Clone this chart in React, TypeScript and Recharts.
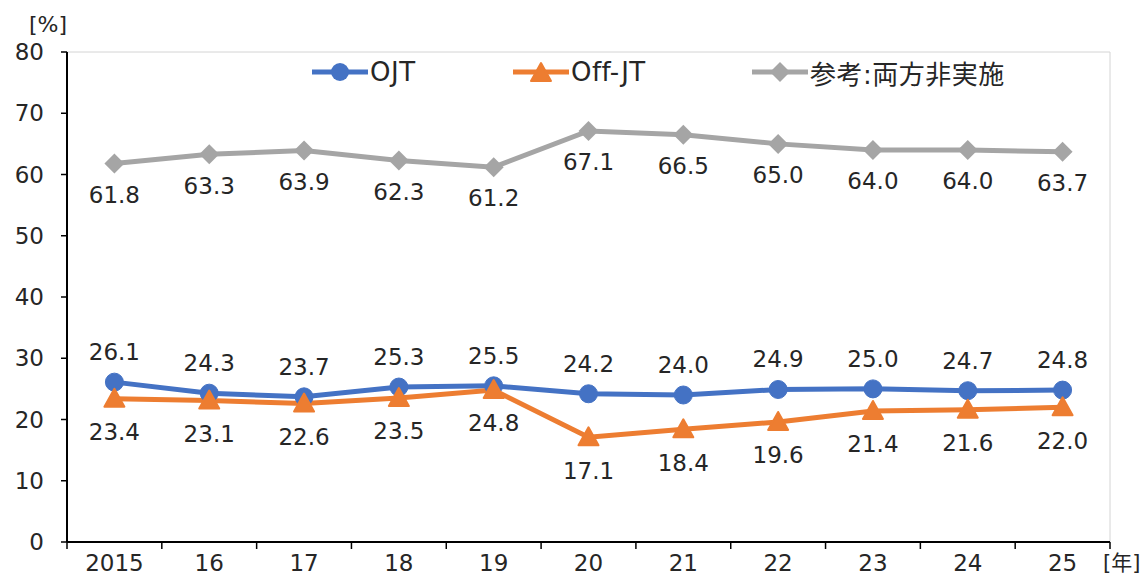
import { CartesianGrid, Legend, LabelList, Line, LineChart, ReferenceLine, XAxis, YAxis } from "recharts";

const years = ["2015", "16", "17", "18", "19", "20", "21", "22", "23", "24", "25"];
const ojt = [26.1, 24.3, 23.7, 25.3, 25.5, 24.2, 24.0, 24.9, 25.0, 24.7, 24.8];
const offJt = [23.4, 23.1, 22.6, 23.5, 24.8, 17.1, 18.4, 19.6, 21.4, 21.6, 22.0];
const neither = [61.8, 63.3, 63.9, 62.3, 61.2, 67.1, 66.5, 65.0, 64.0, 64.0, 63.7];
const yTicks = [0, 10, 20, 30, 40, 50, 60, 70, 80];

const BLUE = "#4472C4";
const ORANGE = "#ED7D31";
const GRAY = "#A5A5A5";
const TEXT = "#262626";
const FONT = "'DejaVu Sans', 'Noto Sans CJK JP', sans-serif";

const data = years.map((y, i) => ({ i, year: y, ojt: ojt[i], offJt: offJt[i], neither: neither[i] }));

// label ticks at category centres, tick marks at the boundaries between them
const xTicks = years.flatMap((_, i) => (i === 0 ? [-0.5, i, i + 0.5] : [i, i + 0.5]));

function XTick({ x, y, payload }: any) {
  const v = payload.value as number;
  if (!Number.isInteger(v)) {
    return <line x1={x} x2={x} y1={y} y2={y + 7} stroke="#000" strokeWidth={1.5} />;
  }
  return (
    <text x={x} y={y + 21} dy="0.36em" textAnchor="middle" fontSize={23} fill={TEXT} fontFamily={FONT}>
      {years[v]}
    </text>
  );
}

function Triangle({ cx, cy, color }: any) {
  if (cx == null || cy == null) return null;
  return (
    <path
      d={`M${cx},${cy - 10} L${cx + 10},${cy + 8} L${cx - 10},${cy + 8} Z`}
      fill={color}
      stroke={color}
      strokeWidth={2}
      strokeLinejoin="round"
    />
  );
}

function Diamond({ cx, cy, color }: any) {
  if (cx == null || cy == null) return null;
  return <path d={`M${cx},${cy - 10} L${cx + 10},${cy} L${cx},${cy + 10} L${cx - 10},${cy} Z`} fill={color} />;
}

function LegendIcon({ kind, color }: { kind: string; color: string }) {
  return (
    <svg width={56} height={22}>
      <line x1={0} x2={56} y1={11} y2={11} stroke={color} strokeWidth={5} strokeLinecap="round" />
      {kind === "circle" && <circle cx={28} cy={11} r={9} fill={color} />}
      {kind === "triangle" && <Triangle cx={28} cy={12} color={color} />}
      {kind === "diamond" && <Diamond cx={28} cy={11} color={color} />}
    </svg>
  );
}

const legendItems = [
  { name: "OJT", kind: "circle", color: BLUE, left: 0 },
  { name: "Off-JT", kind: "triangle", color: ORANGE, left: 201 },
  { name: "参考:両方非実施", kind: "diamond", color: GRAY, left: 440 },
];

function renderLegend() {
  return (
    <div style={{ position: "relative", width: 740, height: 30 }}>
      {legendItems.map((it) => (
        <div
          key={it.name}
          style={{ position: "absolute", left: it.left, top: 0, display: "flex", alignItems: "center", height: 30 }}
        >
          <LegendIcon kind={it.kind} color={it.color} />
          <span
            style={{ fontSize: 26, color: TEXT, marginLeft: 2, fontFamily: FONT, whiteSpace: "nowrap", letterSpacing: 0.5 }}
          >
            {it.name}
          </span>
        </div>
      ))}
    </div>
  );
}

const fmt = (v: any) => Number(v).toFixed(1);

export default function App() {
  return (
    <div style={{ position: "absolute", left: 0, top: 0, width: 1147, height: 576, background: "#fff", fontFamily: FONT }}>
      <LineChart width={1147} height={576} data={data} margin={{ top: 52, right: 37, bottom: 0, left: 0 }}>
        <CartesianGrid horizontal={false} vertical={false} />
        <XAxis
          dataKey="i"
          type="number"
          domain={[-0.5, 10.5]}
          ticks={xTicks}
          interval={0}
          height={34}
          tickSize={0}
          tickMargin={0}
          tickLine={false}
          tick={<XTick />}
          axisLine={{ stroke: "#000", strokeWidth: 2 }}
        />
        <YAxis
          type="number"
          domain={[0, 80]}
          ticks={yTicks}
          interval={0}
          width={67}
          tickSize={6}
          tickMargin={17}
          tickLine={{ stroke: "#000", strokeWidth: 1.5 }}
          axisLine={{ stroke: "#000", strokeWidth: 2 }}
          tick={{ fontSize: 23, fill: TEXT, fontFamily: FONT }}
        />
        <ReferenceLine y={80} stroke="#d4d4d4" strokeWidth={1} />
        <ReferenceLine x={10.5} stroke="#d4d4d4" strokeWidth={1} />
        <Legend
          layout="vertical"
          align="center"
          verticalAlign="middle"
          content={renderLegend}
          wrapperStyle={{ top: 57, left: 312, width: 740, height: 30 }}
        />
        <Line
          dataKey="ojt"
          name="OJT"
          type="linear"
          stroke={BLUE}
          strokeWidth={5}
          dot={{ r: 9, fill: BLUE, stroke: BLUE, strokeWidth: 1 }}
          activeDot={false}
          isAnimationActive={false}
        >
          <LabelList dataKey="ojt" position="top" offset={22} formatter={fmt} fontSize={23} fill={TEXT} fontFamily={FONT} />
        </Line>
        <Line
          dataKey="offJt"
          name="Off-JT"
          type="linear"
          stroke={ORANGE}
          strokeWidth={5}
          dot={(p: any) => <Triangle key={`t${p.index}`} cx={p.cx} cy={p.cy} color={ORANGE} />}
          activeDot={false}
          isAnimationActive={false}
        >
          <LabelList dataKey="offJt" position="bottom" offset={25} formatter={fmt} fontSize={23} fill={TEXT} fontFamily={FONT} />
        </Line>
        <Line
          dataKey="neither"
          name="参考:両方非実施"
          type="linear"
          stroke={GRAY}
          strokeWidth={5}
          dot={(p: any) => <Diamond key={`d${p.index}`} cx={p.cx} cy={p.cy} color={GRAY} />}
          activeDot={false}
          isAnimationActive={false}
        >
          <LabelList dataKey="neither" position="bottom" offset={23} formatter={fmt} fontSize={23} fill={TEXT} fontFamily={FONT} />
        </Line>
      </LineChart>
      <div style={{ position: "absolute", left: 29, top: 14, fontSize: 22, lineHeight: "22px", color: TEXT, whiteSpace: "nowrap" }}>
        [%]
      </div>
      <div
        style={{ position: "absolute", left: 1103, top: 552, fontSize: 21, lineHeight: "22px", color: TEXT, whiteSpace: "nowrap" }}
      >
        [年]
      </div>
    </div>
  );
}
